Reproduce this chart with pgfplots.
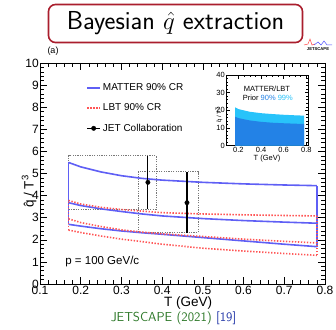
\documentclass[border=0pt]{standalone}
\usepackage{pgfplots}
\pgfplotsset{compat=1.18}
\usepackage{fontspec}
\setmainfont{Liberation Sans}
\definecolor{mblue}{RGB}{95,95,245}
\definecolor{lred}{RGB}{255,85,85}
\definecolor{boxgray}{RGB}{120,120,120}
\definecolor{dblue}{RGB}{35,130,230}
\definecolor{lcyan}{RGB}{40,195,250}
\definecolor{titlered}{RGB}{170,30,45}
\definecolor{jsgreen}{RGB}{45,120,40}
\definecolor{refblue}{RGB}{40,60,170}
\begin{document}
\begin{tikzpicture}
\useasboundingbox (0pt,0pt) rectangle (336pt,329pt);
\begin{axis}[
  at={(40pt,45pt)}, anchor=south west, scale only axis,
  width=285pt, height=221pt,
  xmin=0.1, xmax=0.8, ymin=0, ymax=10,
  xtick={0.1,0.2,0.3,0.4,0.5,0.6,0.7,0.8},
  xticklabels={0.1,0.2,0.3,0.4,0.5,0.6,0.7,0.8},
  ytick={0,1,2,3,4,5,6,7,8,9,10},
  yticklabels={0,1,2,3,4,5,6,7,8,9,10},
  minor x tick num=4, minor y tick num=4,
  tick align=inside, major tick length=7pt, minor tick length=4pt,
  tick style={black, line width=0.6pt},
  axis line style={line width=0.7pt},
  ticklabel style={font=\fontsize{12}{13}\selectfont},
  yticklabel style={inner sep=1pt},
  xticklabel style={inner sep=2pt},
  xlabel={T (GeV)},
  xlabel style={font=\fontsize{13.5}{14}\selectfont, at={(axis description cs:0.52,0)}, anchor=north, yshift=-9pt},
  ylabel={\^{q} / T\textsuperscript{3}},
  ylabel style={font=\fontsize{13.5}{14}\selectfont, at={(axis description cs:0,0.5)}, anchor=south, xshift=-18pt},
  legend style={at={(rel axis cs:0.162,0.915)}, anchor=north west, draw=none, fill=none,
    font=\fontsize{10}{11}\selectfont, row sep=7.5pt, inner sep=0pt},
  legend cell align=left,
]
% JET boxes
\addplot[boxgray, line width=0.8pt, dash pattern=on 1.2pt off 1.2pt, forget plot] coordinates {(0.17,3.38) (0.385,3.38) (0.385,5.8) (0.17,5.8) (0.17,3.38)};
\addplot[boxgray, line width=0.8pt, dash pattern=on 1.2pt off 1.2pt, forget plot] coordinates {(0.341,2.34) (0.488,2.34) (0.488,5.08) (0.341,5.08) (0.341,2.34)};
% MATTER
\addplot[mblue, line width=1.6pt, legend image code/.code={\draw[mblue,line width=1.6pt] (0pt,0pt)--(13pt,0pt);}] coordinates {
(0.17,5.5) (0.2,5.3) (0.25,5.07) (0.3,4.9) (0.35,4.78) (0.4,4.7) (0.5,4.6) (0.6,4.53) (0.7,4.48) (0.78,4.45)};
\addlegendentry{MATTER 90\% CR}
\addplot[mblue, line width=1.6pt, forget plot] coordinates {
(0.17,3.68) (0.2,3.55) (0.25,3.4) (0.3,3.28) (0.35,3.17) (0.4,3.08) (0.5,2.96) (0.6,2.87) (0.7,2.8) (0.78,2.75)};
\addplot[mblue, line width=1.6pt, forget plot] coordinates {
(0.17,2.7) (0.2,2.62) (0.25,2.5) (0.3,2.4) (0.35,2.32) (0.4,2.25) (0.5,2.1) (0.6,1.95) (0.7,1.8) (0.78,1.69)};
\addplot[mblue, line width=1.6pt, forget plot] coordinates {(0.17,2.7) (0.17,5.5)};
\addplot[mblue, line width=1.6pt, forget plot] coordinates {(0.78,1.69) (0.78,4.45)};
% LBT
\addplot[lred, line width=1.6pt, dash pattern=on 1.4pt off 1.6pt, legend image code/.code={\draw[lred,line width=1.6pt,dash pattern=on 1.4pt off 1.6pt] (0pt,0pt)--(13pt,0pt);}] coordinates {
(0.17,3.78) (0.2,3.62) (0.25,3.47) (0.3,3.37) (0.35,3.3) (0.4,3.23) (0.5,3.17) (0.6,3.13) (0.7,3.1) (0.78,3.08)};
\addlegendentry{LBT 90\% CR}
\addplot[lred, line width=1.6pt, dash pattern=on 1.4pt off 1.6pt, forget plot] coordinates {
(0.17,2.95) (0.2,2.78) (0.25,2.6) (0.3,2.45) (0.35,2.35) (0.4,2.27) (0.5,2.15) (0.6,2.03) (0.7,1.93) (0.78,1.86)};
\addplot[lred, line width=1.6pt, dash pattern=on 1.4pt off 1.6pt, forget plot] coordinates {
(0.17,2.44) (0.2,2.33) (0.25,2.17) (0.3,2.03) (0.35,1.92) (0.4,1.8) (0.5,1.62) (0.6,1.49) (0.7,1.38) (0.78,1.3)};
\addplot[lred, line width=1.6pt, dash pattern=on 1.4pt off 1.6pt, forget plot] coordinates {(0.17,2.44) (0.17,3.78)};
\addplot[lred, line width=1.6pt, dash pattern=on 1.4pt off 1.6pt, forget plot] coordinates {(0.78,1.3) (0.78,3.08)};
% JET
\addplot[black, only marks, mark=*, mark size=2.2pt,
  legend image code/.code={\draw[black,line width=1pt] (0pt,0pt)--(13pt,0pt); \fill[black] (6.5pt,0pt) circle (2.2pt);},
  error bars/.cd, y dir=both, y explicit, error bar style={line width=1.2pt, black}, error mark=none]
  coordinates {(0.365,4.6) += (0,1.2) -= (0,1.22) (0.461,3.68) += (0,1.4) -= (0,1.39)};
\addlegendentry{JET Collaboration}
\node[font=\fontsize{11.5}{12}\selectfont] at (axis cs:0.253,1.02) {p = 100 GeV/c};
\end{axis}
% inset
\begin{axis}[
  at={(226pt,183.3pt)}, anchor=south west, scale only axis,
  width=82pt, height=70.7pt,
  xmin=0.09, xmax=0.815, ymin=0, ymax=40,
  xtick={0.2,0.4,0.6,0.8}, xticklabels={0.2,0.4,0.6,0.8},
  ytick={0,10,20,30,40}, yticklabels={0,10,20,30,40},
  minor x tick num=3, minor y tick num=4,
  tick align=inside, major tick length=3.5pt, minor tick length=2pt,
  tick style={black, line width=0.5pt},
  axis line style={line width=0.6pt},
  axis background/.style={fill=white},
  ticklabel style={font=\fontsize{7.5}{8}\selectfont, inner sep=1pt},
  xlabel={T (GeV)},
  xlabel style={font=\fontsize{7.5}{8}\selectfont, at={(axis description cs:0.5,0)}, anchor=north, yshift=-6pt},
  ylabel={\^{q} / T\textsuperscript{3}},
  ylabel style={font=\fontsize{6}{7}\selectfont, at={(axis description cs:0,0.62)}, anchor=south, xshift=-13pt},
]
\addplot[fill=lcyan, draw=none] coordinates {
(0.17,21.7) (0.2,20.7) (0.3,19.2) (0.4,18.4) (0.5,17.9) (0.6,17.5) (0.7,17.2) (0.78,17.0)} \closedcycle;
\addplot[fill=dblue, draw=none] coordinates {
(0.17,16.4) (0.2,15.6) (0.3,14.3) (0.4,13.5) (0.5,13.0) (0.6,12.7) (0.7,12.45) (0.78,12.3)} \closedcycle;
\node[font=\fontsize{7.5}{8}\selectfont] at (rel axis cs:0.5,0.81) {MATTER/LBT};
\node[font=\fontsize{7.5}{8}\selectfont] at (rel axis cs:0.51,0.68) {Prior \textcolor{dblue}{90\%} \textcolor{lcyan}{99\%}};
\end{axis}
% (a) and logo
\node[font=\fontsize{9}{10}\selectfont] at (53pt,278pt) {(a)};
\draw[line width=0.5pt, red!70] (304pt,284pt) -- (308pt,285pt) -- (310pt,290pt) -- (312pt,284pt) -- (315pt,285pt);
\draw[line width=0.5pt, blue!70] (314pt,284pt) -- (318pt,287pt) -- (321pt,284pt) -- (324pt,288pt) -- (327pt,284pt) -- (332pt,284pt);
\node[font=\bfseries\fontsize{4.2}{5}\selectfont, inner sep=0pt] at (318pt,280pt) {JETSCAPE};
% title
\node[draw=titlered, line width=1.6pt, rounded corners=7pt, fill=white, minimum width=254pt, minimum height=38pt, inner sep=0pt, font=\sffamily\fontsize{26}{28}\selectfont] at (175.5pt,305.5pt) {Bayesian $\hat{q}$ extraction};
% citation
\node[font=\sffamily\fontsize{13}{14}\selectfont] at (173.5pt,11pt) {\textcolor{jsgreen}{JETSCAPE (2021)} \textcolor{refblue}{[19]}};
\end{tikzpicture}
\end{document}
